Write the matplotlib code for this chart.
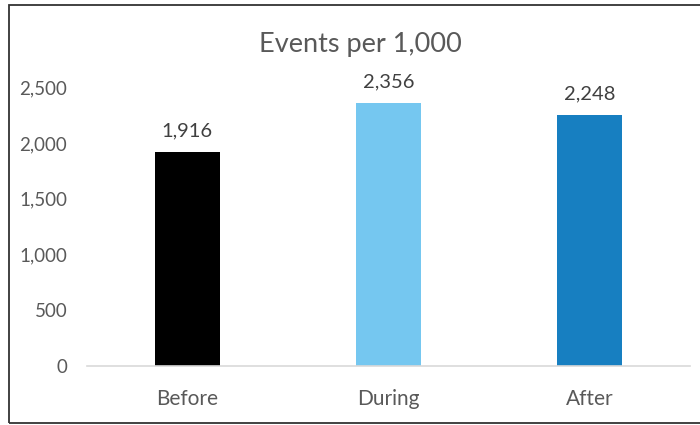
import matplotlib.pyplot as plt
from matplotlib.patches import Rectangle

plt.rcParams['font.family'] = ['Lato', 'DejaVu Sans']

periods = ['Before', 'During', 'After']
events = [1916, 2356, 2248]
bar_colors = ['#000000', '#75C7F0', '#177FC1']
yticks = [0, 500, 1000, 1500, 2000, 2500]

fig = plt.figure(figsize=(7, 4.25), dpi=100)
ax = fig.add_axes([0.124, 0.139, 0.862, 0.656])

x = range(len(periods))
bars = ax.bar(x, events, width=0.32, color=bar_colors, zorder=2)

for b, v in zip(bars, events):
    ax.annotate(f'{v:,}', (b.get_x() + b.get_width() / 2, v),
                xytext=(0, 9), textcoords='offset points',
                ha='center', va='bottom', fontsize=14.5, color='#404040')

ax.set_xlim(-0.5, 2.5)
ax.set_ylim(0, 2500)
ax.set_yticks(yticks)
ax.set_yticklabels([f'{t:,}' for t in yticks])
ax.set_xticks(list(x))
ax.set_xticklabels(periods)
ax.tick_params(axis='y', length=0, pad=14, labelsize=13.5, labelcolor='#595959')
ax.tick_params(axis='x', length=0, pad=16.5, labelsize=15, labelcolor='#595959')

for s in ['top', 'right', 'left']:
    ax.spines[s].set_visible(False)
ax.spines['bottom'].set_color('#D9D9D9')
ax.spines['bottom'].set_linewidth(1.2)

fig.text(0.515, 0.877, 'Events per 1,000', ha='center', va='baseline',
         fontsize=19.5, color='#595959')

# chart frame (right edge runs off the image)
fig.patches.append(Rectangle((8.5 / 700, 2 / 425), 1.0, 418 / 425,
                             transform=fig.transFigure, fill=False,
                             edgecolor='#333333', linewidth=1.3))

fig.savefig('out.png', dpi=100)
